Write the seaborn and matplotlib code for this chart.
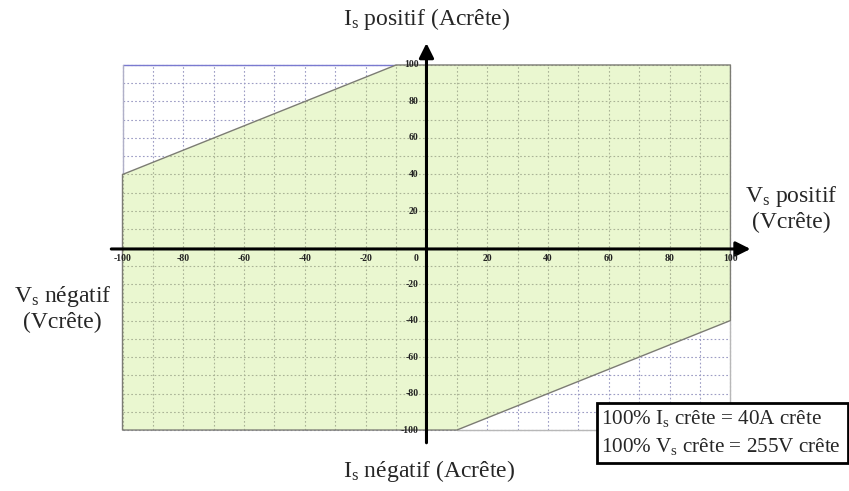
import matplotlib
matplotlib.use("Agg")
import matplotlib.pyplot as plt
import seaborn as sns
from matplotlib.patches import Polygon, Rectangle

# operating area: % of peak voltage (x) vs % of peak current (y)
boundary_v = [-100, -10, 100, 100, 10, -100, -100]
boundary_i = [40, 100, 100, -40, -100, -100, 40]
v_ticks = [-100, -80, -60, -40, -20, 20, 40, 60, 80, 100]
i_ticks = [100, 80, 60, 40, 20, -20, -40, -60, -80, -100]
grid_steps = list(range(-100, 101, 10))

sns.set_theme(style="white")
plt.rcParams['font.family'] = ['Liberation Serif', 'DejaVu Serif']
plt.rcParams['mathtext.fontset'] = 'custom'
plt.rcParams['mathtext.rm'] = 'Liberation Serif'

fig = plt.figure(figsize=(8.49, 4.91), dpi=100)
ax = fig.add_axes([0, 0, 1, 1])
ax.set_xlim(-140.3, 139.0)
ax.set_ylim(-133.4, 135.6)
ax.axis('off')

# background grid (outside the allowed area)
ax.vlines(grid_steps, -100, 100, colors='#9c9cc4', linestyles=(0, (1.5, 2)), lw=0.8, zorder=1)
ax.hlines(grid_steps, -100, 100, colors='#9c9cc4', linestyles=(0, (1.5, 2)), lw=0.8, zorder=1)

# outer frame
ax.plot([-100, -10], [100, 100], color='#7a7ad0', lw=1, zorder=2)
ax.plot([-100, -100], [40, 100], color='#b0b0c8', lw=1, zorder=2)
ax.plot([10, 100], [-100, -100], color='#b8b8b8', lw=1, zorder=2)
ax.plot([100, 100], [-100, -40], color='#b8b8b8', lw=1, zorder=2)

# allowed area
poly = Polygon(list(zip(boundary_v, boundary_i)), closed=True,
               facecolor='#eaf7d0', edgecolor='none', zorder=3)
ax.add_patch(poly)
gv = ax.vlines(grid_steps, -100, 100, colors='#aab396', linestyles=(0, (1.5, 2)), lw=0.8, zorder=4)
gh = ax.hlines(grid_steps, -100, 100, colors='#aab396', linestyles=(0, (1.5, 2)), lw=0.8, zorder=4)
gv.set_clip_path(poly)
gh.set_clip_path(poly)
sns.lineplot(x=boundary_v, y=boundary_i, sort=False, estimator=None,
             color='#7c7c74', lw=1, ax=ax, zorder=5)

# axes with arrows
ax.annotate('', xy=(107.5, -0.8), xytext=(-104.6, -0.8),
            arrowprops=dict(arrowstyle='-|>', color='black', lw=2.2, mutation_scale=22), zorder=6)
ax.annotate('', xy=(0, 113.5), xytext=(0, -108.5),
            arrowprops=dict(arrowstyle='-|>', color='black', lw=2.2, mutation_scale=22), zorder=6)

# tick labels
tick_kw = dict(fontsize=7, fontweight='bold', color='#222222', zorder=7)
for v in v_ticks:
    ax.text(v, -6, str(v), ha='center', va='center', **tick_kw)
for i in i_ticks:
    ax.text(-2.6, i, str(i), ha='right', va='center', **tick_kw)
ax.text(-2.6, -6, '0', ha='right', va='center', **tick_kw)

# axis titles
ax.text(0, 125.0, r'$\mathregular{I_s}$ positif (Acrête)', ha='center', va='center', fontsize=17)
ax.text(0.7, -122.5, r'$\mathregular{I_s}$ négatif (Acrête)', ha='center', va='center', fontsize=17)
ax.text(119.9, 21.4, '$\\mathregular{V_s}$ positif\n(Vcrête)', ha='center', va='center', fontsize=17)
ax.text(-119.7, -33.4, '$\\mathregular{V_s}$ négatif\n(Vcrête)', ha='center', va='center', fontsize=17)

# legend box
ax.add_patch(Rectangle((0.703, 0.057), 0.296, 0.122, transform=ax.transAxes,
                       facecolor='white', edgecolor='black', lw=2, zorder=8))
ax.text(0.708, 0.147, r'100% $\mathregular{I_s}$ crête = 40A crête', transform=ax.transAxes,
        ha='left', va='center', fontsize=15.2, zorder=9)
ax.text(0.708, 0.091, r'100% $\mathregular{V_s}$ crête = 255V crête', transform=ax.transAxes,
        ha='left', va='center', fontsize=15.2, zorder=9)

fig.savefig('out.png', dpi=100)
